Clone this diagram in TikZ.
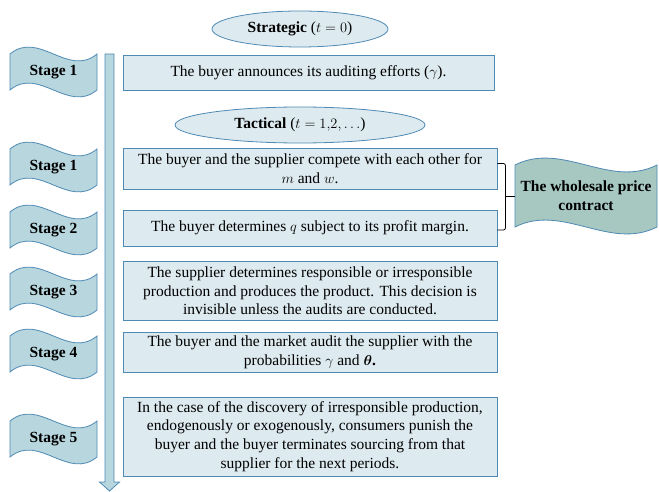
\documentclass[tikz,border=0pt]{standalone}
\usepackage{fontspec}
\setmainfont{Liberation Serif}
\usepackage{bm}
\usetikzlibrary{shapes.geometric}

\definecolor{edgeblue}{RGB}{79,138,180}
\definecolor{stagefill}{RGB}{183,214,222}
\definecolor{boxfill}{RGB}{221,234,239}
\definecolor{contractfill}{RGB}{167,199,193}

% wave flag behind a label: #1 centre, #2 half width, #3 half height, #4 fill
\newcommand{\waveflag}[4]{%
  \filldraw[flag line, fill=#4, shift={(#1)}]
    (-#2,-#3) .. controls (-#2/3,-#3-24) and (#2/3,-#3+24) .. (#2,-#3)
    -- (#2,#3) .. controls (#2/3,#3+24) and (-#2/3,#3-24) .. (-#2,#3) -- cycle;}

\begin{document}
\begin{tikzpicture}[x=1pt,y=-1pt,font=\fontsize{15.5}{18.7}\selectfont,
    flag line/.style={draw=edgeblue,line width=0.8pt},
    stage/.style={font=\fontsize{15.5}{18.7}\selectfont\bfseries},
    box/.style={rectangle,draw=edgeblue,fill=boxfill,line width=0.8pt,align=center,minimum width=374,inner sep=2pt},
    period/.style={ellipse,draw=edgeblue,fill=boxfill,line width=0.8pt,minimum height=36,inner sep=0pt}]
            \useasboundingbox (0,0) rectangle (659,492);

            % time arrow
            \coordinate (top) at (109.5,54);
            \coordinate (tip) at (109.5,491);
            \filldraw[flag line, fill=stagefill]
                ([xshift=-4.5]top) -- ([xshift=4.5]top) -- ([xshift=4.5,yshift=9]tip)
                -- ([xshift=10,yshift=9]tip) -- (tip) -- ([xshift=-10,yshift=9]tip)
                -- ([xshift=-4.5,yshift=9]tip) -- cycle;

            \node[period, minimum width=176] (strat) at (300,29) {\textbf{Strategic} ($t = 0$)};
            \node[period, minimum width=250] (tact) at (300,125) {\textbf{Tactical} ($t = 1{,}2, \ldots$)};

            \waveflag{53.5,72}{43.5}{18}{stagefill}
            \node[stage] (s1) at (53.5,72) {Stage 1};
            \waveflag{53.5,167}{43.5}{18}{stagefill}
            \node[stage] (s2) at (53.5,167) {Stage 1};
            \waveflag{53.5,230}{43.5}{18}{stagefill}
            \node[stage] (s3) at (53.5,230) {Stage 2};
            \waveflag{53.5,292}{43.5}{18}{stagefill}
            \node[stage] (s4) at (53.5,292) {Stage 3};
            \waveflag{53.5,354}{43.5}{18}{stagefill}
            \node[stage] (s5) at (53.5,354) {Stage 4};
            \waveflag{53.5,439}{43.5}{18}{stagefill}
            \node[stage] (s6) at (53.5,439) {Stage 5};

            \node[box, minimum width=371, minimum height=35] (b1) at (308.5,72.5) {The buyer announces its auditing efforts ($\gamma$).};
            \node[box, minimum height=41] (b2) at (310,168.5) {The buyer and the supplier compete with each other for\\$m$ and $w$.};
            \node[box, minimum height=36] (b3) at (310,228) {The buyer determines $q$ subject to its profit margin.};
            \node[box, minimum height=59] (b4) at (310,291) {The supplier determines responsible or irresponsible\\production and produces the product. This decision is\\invisible unless the audits are conducted.};
            \node[box, minimum height=40] (b5) at (310,352) {The buyer and the market audit the supplier with the\\probabilities $\gamma$ and $\bm{\theta}$\textbf{.}};
            \node[box, minimum height=79] (b6) at (310,436.5) {In the case of the discovery of irresponsible production,\\endogenously or exogenously, consumers punish the\\buyer and the buyer terminates sourcing from that\\supplier for the next periods.};

            \waveflag{586,196}{71}{31}{contractfill}
            \node[stage, align=center, minimum width=142] (wp) at (586,196) {The wholesale price\\contract};

            % bracket joining stages 1 and 2
            \draw[line width=0.8pt, rounded corners=2pt]
                ([yshift=5]b2.east) -- ++(8,0) |- ([yshift=-2]b3.east);
            \draw[line width=0.8pt] ([xshift=8]b2.east |- wp.west) -- (wp.west);
        \end{tikzpicture}
\end{document}
